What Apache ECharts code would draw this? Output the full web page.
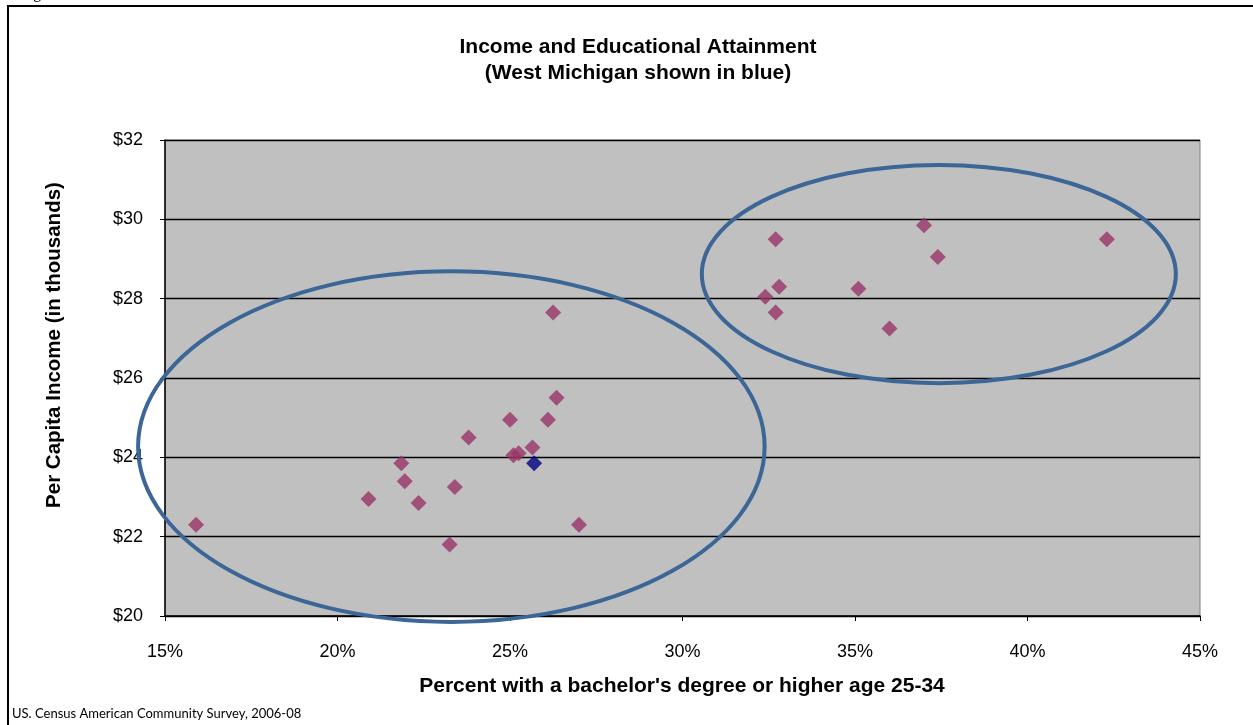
<!DOCTYPE html>
<html>
<head>
<meta charset="utf-8">
<script src="https://cdn.jsdelivr.net/npm/echarts@6/dist/echarts.min.js"></script>
<style>
  html, body { margin: 0; padding: 0; background: #fff; }
  #chart { width: 1253px; height: 725px; }
</style>
</head>
<body>
<div id="chart"></div>
<script>
// Percent with a bachelor's degree (age 25-34) vs. per capita income ($ thousands)
const regionPct = [15.9, 20.9, 21.85, 21.95, 22.35, 23.25, 23.4, 23.8, 25.0, 25.1, 25.25, 25.65,
                   26.1, 26.35, 27.0, 26.25, 32.7, 32.8, 32.4, 32.7, 35.1, 36.0, 37.0, 37.4, 42.3];
const regionIncome = [22.3, 22.95, 23.85, 23.4, 22.85, 21.8, 23.25, 24.5, 24.95, 24.05, 24.1, 24.25,
                      24.95, 25.5, 22.3, 27.65, 29.5, 28.3, 28.05, 27.65, 28.25, 27.25, 29.85, 29.05, 29.5];

// West Michigan
const westMichiganPct = [25.7];
const westMichiganIncome = [23.85];

// Cluster outlines: [center %, center $, radius %, radius $]
const clusterOutlines = [
  [23.3, 24.27, 9.08, 4.42],
  [37.43, 28.62, 6.87, 2.75]
];

const xTicks = { min: 15, max: 45, step: 5 };
const yTicks = { min: 20, max: 32, step: 2 };

const chartTitle = ['Income and Educational Attainment', '(West Michigan shown in blue)'];
const xTitle = "Percent with a bachelor's degree or higher age 25-34";
const yTitle = 'Per Capita Income (in thousands)';
const sourceNote = 'US. Census American Community Survey, 2006-08';

const pair = (xs, ys) => xs.map((x, i) => [x, ys[i]]);

const chart = echarts.init(document.getElementById('chart'), null, { renderer: 'canvas' });
const FONT = '"Liberation Sans", Arial, sans-serif';

chart.setOption({
  animation: false,
  backgroundColor: '#ffffff',
  textStyle: { fontFamily: FONT },
  grid: {
    left: 165, right: 53, top: 140, bottom: 109,
    show: true, backgroundColor: '#C0C0C0', borderColor: '#808080', borderWidth: 1
  },
  xAxis: {
    type: 'value', min: xTicks.min, max: xTicks.max, interval: xTicks.step,
    axisLine: { show: true, onZero: false, lineStyle: { color: '#000', width: 1.5 } },
    axisTick: { show: true, inside: false, length: 5, lineStyle: { color: '#000', width: 1 } },
    axisLabel: { formatter: '{value}%', color: '#000', fontSize: 18, margin: 27, fontFamily: FONT },
    splitLine: { show: false }
  },
  yAxis: {
    type: 'value', min: yTicks.min, max: yTicks.max, interval: yTicks.step,
    axisLine: { show: true, onZero: false, lineStyle: { color: '#000', width: 1.5 } },
    axisTick: { show: true, inside: false, length: 5, lineStyle: { color: '#000', width: 1 } },
    axisLabel: { formatter: '${value}', color: '#000', fontSize: 18, margin: 22, fontFamily: FONT },
    splitLine: { show: true, lineStyle: { color: '#000', width: 1.3 } }
  },
  series: [
    {
      type: 'scatter', name: 'Regions',
      data: pair(regionPct, regionIncome),
      symbol: 'diamond', symbolSize: 16,
      itemStyle: { color: '#993366' },
      z: 3
    },
    {
      type: 'scatter', name: 'West Michigan',
      data: pair(westMichiganPct, westMichiganIncome),
      symbol: 'diamond', symbolSize: 16,
      itemStyle: { color: '#000080' },
      z: 4
    },
    {
      type: 'custom', name: 'Clusters',
      data: clusterOutlines,
      encode: { x: 0, y: 1 },
      clip: false,
      z: 5,
      silent: true,
      renderItem: function (params, api) {
        const c = api.coord([api.value(0), api.value(1)]);
        const s = api.size([api.value(2), api.value(3)]);
        return {
          type: 'ellipse',
          shape: { cx: c[0], cy: c[1], rx: s[0], ry: s[1] },
          style: { fill: 'none', stroke: '#3B6696', lineWidth: 4 }
        };
      }
    }
  ],
  graphic: [
    // outer frame
    { type: 'rect', shape: { x: 8, y: 6, width: 1300, height: 800 },
      style: { fill: 'none', stroke: '#000', lineWidth: 2 }, z: 1 },
    { type: 'text', x: 20, y: -14,
      style: { text: 'Figure', font: '16px "Liberation Serif", serif', fill: '#000' } },
    { type: 'text', x: 638, y: 47,
      style: { text: chartTitle[0], font: 'bold 21px ' + FONT, fill: '#000',
               textAlign: 'center', textVerticalAlign: 'middle' } },
    { type: 'text', x: 638, y: 73,
      style: { text: chartTitle[1], font: 'bold 21px ' + FONT, fill: '#000',
               textAlign: 'center', textVerticalAlign: 'middle' } },
    { type: 'text', x: 682, y: 686,
      style: { text: xTitle, font: 'bold 21px ' + FONT, fill: '#000',
               textAlign: 'center', textVerticalAlign: 'middle' } },
    { type: 'text', x: 54, y: 345, rotation: Math.PI / 2,
      style: { text: yTitle, font: 'bold 20.5px ' + FONT, fill: '#000',
               textAlign: 'center', textVerticalAlign: 'middle' } },
    { type: 'text', x: 12, y: 714,
      style: { text: sourceNote, font: '13px Lato, "Open Sans", sans-serif', fill: '#000',
               textAlign: 'left', textVerticalAlign: 'middle' } }
  ]
});
</script>
</body>
</html>
